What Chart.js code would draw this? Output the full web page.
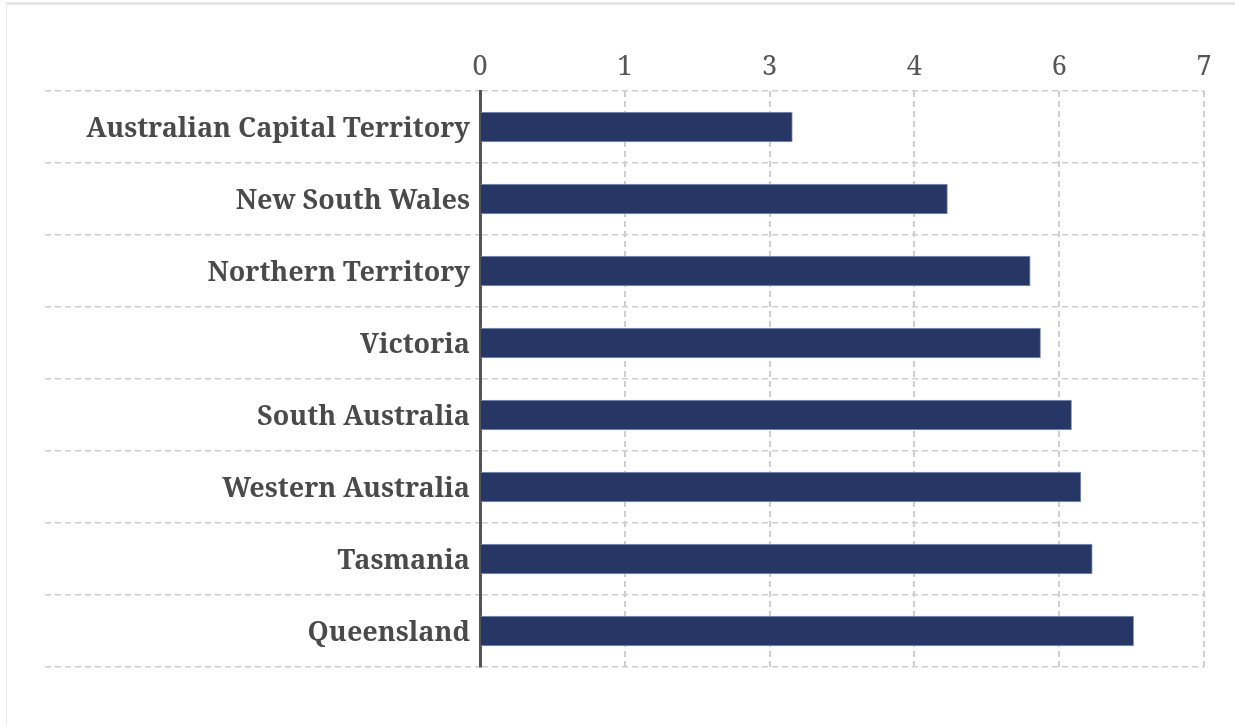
<!DOCTYPE html>
<html>
<head>
<meta charset="utf-8">
<script src="https://cdn.jsdelivr.net/npm/chart.js@4.4.1/dist/chart.umd.min.js"></script>
<style>
  html, body { margin: 0; padding: 0; background: #fff; }
  #wrap { position: relative; width: 1235px; height: 725px; overflow: hidden; }
  #frame { position: absolute; left: 6px; top: 2px; right: -10px; bottom: -10px;
           border-top: 3px solid #e6e6e6; border-left: 1px solid #ececec; }
  #chart { position: absolute; left: 0; top: 0; }
</style>
</head>
<body>
<div id="wrap">
  <div id="frame"></div>
  <canvas id="chart" width="1235" height="725"></canvas>
</div>
<script>
var states = [
  "Australian Capital Territory",
  "New South Wales",
  "Northern Territory",
  "Victoria",
  "South Australia",
  "Western Australia",
  "Tasmania",
  "Queensland"
];
var values = [3.02, 4.52, 5.32, 5.42, 5.72, 5.81, 5.92, 6.32];
var axis_max = 7;
var axis_step = 1.4;

var label_font = "'Noto Serif', 'DejaVu Serif', serif";
var grid_color = "#cfcfcf";

var ctx = document.getElementById('chart').getContext('2d');
var chart = new Chart(ctx, {
  type: 'bar',
  data: {
    labels: states,
    datasets: [{
      data: values,
      backgroundColor: '#263766',
      borderColor: '#8e9bbd',
      borderWidth: 1,
      borderSkipped: 'start',
      barThickness: 30
    }]
  },
  options: {
    indexAxis: 'y',
    responsive: false,
    animation: false,
    layout: {
      padding: { left: 45, top: 40, right: 31, bottom: 58 }
    },
    plugins: {
      legend: { display: false },
      tooltip: { enabled: false }
    },
    scales: {
      x: {
        position: 'top',
        min: 0,
        max: axis_max,
        afterFit: function(scale) { scale.height = 51; },
        ticks: {
          stepSize: axis_step,
          padding: 7,
          color: '#555',
          font: { family: label_font, size: 27 },
          callback: function(v) { return Math.round(v); }
        },
        grid: {
          color: grid_color,
          lineWidth: 2,
          drawTicks: false
        },
        // v4 takes the grid line dash from border.dash
        border: { display: false, dash: [6, 4] }
      },
      y: {
        afterFit: function(scale) { scale.width = 435; },
        ticks: {
          padding: -425,
          labelOffset: 2,
          color: '#4a4a4a',
          font: { family: label_font, size: 27, weight: 'bold' }
        },
        grid: {
          offset: true,
          color: grid_color,
          lineWidth: 1.5,
          tickLength: 435,
          tickColor: grid_color,
          tickWidth: 1.5,
          tickBorderDash: [6, 4]
        },
        border: { display: true, color: '#555', width: 3, dash: [6, 4] }
      }
    }
  }
});
</script>
</body>
</html>
